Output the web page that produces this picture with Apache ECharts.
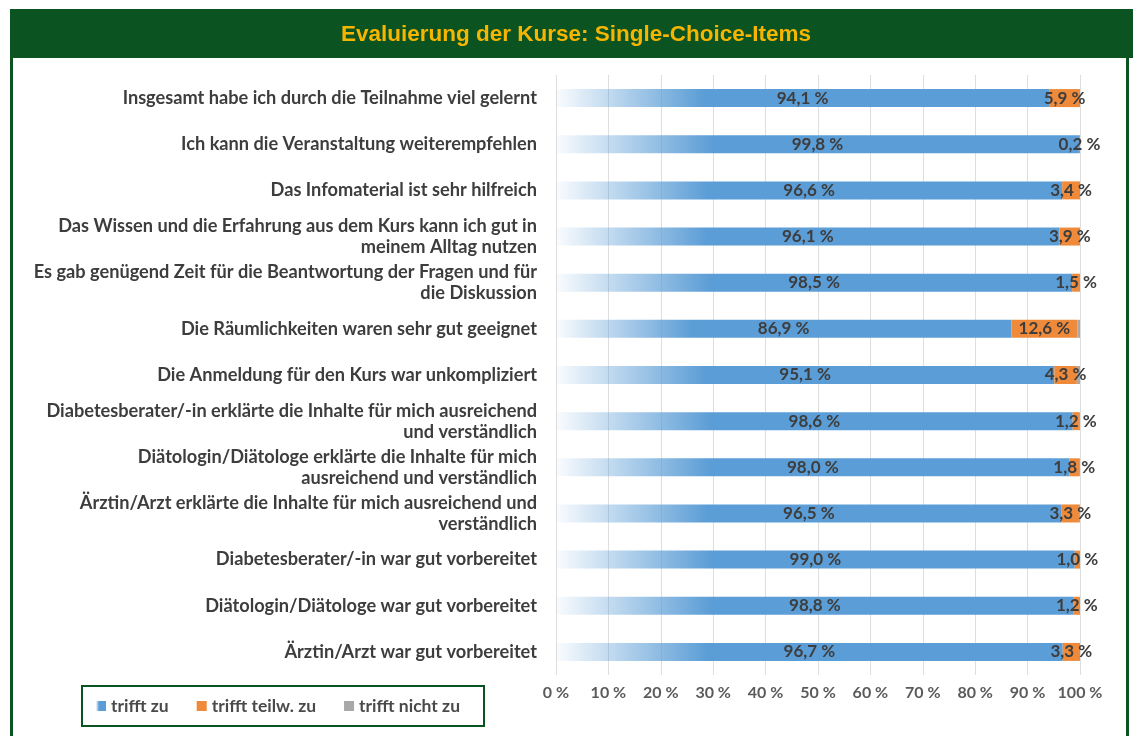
<!DOCTYPE html>
<html>
<head>
<meta charset="utf-8">
<script src="https://cdn.jsdelivr.net/npm/echarts@6/dist/echarts.min.js"></script>
<style>
  html, body { margin: 0; padding: 0; background: #ffffff; }
  #chart { width: 1133px; height: 736px; }
</style>
</head>
<body>
<div id="chart"></div>
<script>
// Evaluierung der Kurse — gestapelte Balken (Anteile in %)
const categories = [
  'Insgesamt habe ich durch die Teilnahme viel gelernt',
  'Ich kann die Veranstaltung weiterempfehlen',
  'Das Infomaterial ist sehr hilfreich',
  'Das Wissen und die Erfahrung aus dem Kurs kann ich gut in\nmeinem Alltag nutzen',
  'Es gab genügend Zeit für die Beantwortung der Fragen und für\ndie Diskussion',
  'Die Räumlichkeiten waren sehr gut geeignet',
  'Die Anmeldung für den Kurs war unkompliziert',
  'Diabetesberater/-in erklärte die Inhalte für mich ausreichend\nund verständlich',
  'Diätologin/Diätologe erklärte die Inhalte für mich\nausreichend und verständlich',
  'Ärztin/Arzt erklärte die Inhalte für mich ausreichend und\nverständlich',
  'Diabetesberater/-in war gut vorbereitet',
  'Diätologin/Diätologe war gut vorbereitet',
  'Ärztin/Arzt war gut vorbereitet'
];
const trifftZu      = [94.1, 99.8, 96.6, 96.1, 98.5, 86.9, 95.1, 98.6, 98.0, 96.5, 99.0, 98.8, 96.7];
const trifftTeilw   = [5.9, 0.2, 3.4, 3.9, 1.5, 12.6, 4.3, 1.2, 1.8, 3.3, 1.0, 1.2, 3.3];
const trifftNicht   = [0, 0, 0, 0, 0, 0.5, 0.6, 0.2, 0.2, 0.2, 0, 0, 0];
const xTicks = [0, 10, 20, 30, 40, 50, 60, 70, 80, 90, 100];

const GREEN = '#0b5320';
const TEXT = '#3d3d3d';
const FONT = 'Lato, "Open Sans", sans-serif';

const pct = (v) => v.toFixed(1).replace('.', ',') + ' %';

const valueLabel = {
  show: true,
  position: 'inside',
  fontFamily: FONT,
  fontWeight: 'bold',
  fontSize: 17,
  color: TEXT,
  formatter: (p) => pct(p.value)
};

const chart = echarts.init(document.getElementById('chart'));
chart.setOption({
  animation: false,
  backgroundColor: '#ffffff',
  title: {
    text: 'Evaluierung der Kurse: Single-Choice-Items',
    left: 571,
    top: 18,
    textAlign: 'center',
    textStyle: {
      fontFamily: '"Liberation Sans Narrow", "Liberation Sans", sans-serif',
      fontWeight: 'bold',
      fontSize: 22.5,
      color: '#f5b500'
    }
  },
  graphic: [
    // Rahmen + Titelband
    { type: 'rect', z: -1, shape: { x: 10, y: 9, width: 1123, height: 49 }, style: { fill: GREEN } },
    { type: 'rect', z: -1, shape: { x: 10, y: 58, width: 3, height: 678 }, style: { fill: GREEN } },
    { type: 'rect', z: -1, shape: { x: 1126, y: 58, width: 3, height: 678 }, style: { fill: GREEN } }
  ],
  legend: {
    left: 82,
    top: 686,
    padding: [11, 24, 11, 14],
    borderColor: GREEN,
    borderWidth: 2,
    itemWidth: 10,
    itemHeight: 10,
    itemGap: 28,
    icon: 'rect',
    textStyle: { fontFamily: FONT, fontWeight: 'bold', fontSize: 17.5, color: '#4a4a4a' },
    data: ['trifft zu', 'trifft teilw. zu', 'trifft nicht zu']
  },
  grid: { left: 556, right: 53, top: 75, bottom: 61, containLabel: false },
  xAxis: {
    type: 'value',
    min: 0,
    max: 100,
    interval: 10,
    axisLine: { show: false },
    axisTick: { show: false },
    splitLine: { lineStyle: { color: '#dedede', width: 1 } },
    axisLabel: {
      margin: 10,
      fontFamily: FONT,
      fontWeight: 'bold',
      fontSize: 16,
      color: '#5a5a5a',
      formatter: (v) => (xTicks.includes(v) ? v + ' %' : '')
    }
  },
  yAxis: {
    type: 'category',
    inverse: true,
    data: categories,
    axisLine: { show: false },
    axisTick: { show: false },
    axisLabel: {
      margin: 19,
      fontFamily: FONT,
      fontWeight: 'bold',
      fontSize: 18.2,
      lineHeight: 21,
      color: TEXT,
      align: 'right'
    }
  },
  series: [
    {
      name: 'trifft zu',
      type: 'bar',
      stack: 'total',
      barWidth: 18,
      data: trifftZu,
      itemStyle: {
        color: new echarts.graphic.LinearGradient(0, 0, 1, 0, [
          { offset: 0, color: 'rgba(91,157,214,0.03)' },
          { offset: 0.3, color: '#5b9dd6' },
          { offset: 1, color: '#5b9dd6' }
        ])
      },
      label: valueLabel
    },
    {
      name: 'trifft teilw. zu',
      type: 'bar',
      stack: 'total',
      barWidth: 18,
      data: trifftTeilw,
      itemStyle: { color: '#ee8a3a' },
      label: valueLabel
    },
    {
      name: 'trifft nicht zu',
      type: 'bar',
      stack: 'total',
      barWidth: 18,
      data: trifftNicht,
      itemStyle: { color: '#a8a8a8' },
      label: { show: false }
    }
  ]
});
</script>
</body>
</html>
